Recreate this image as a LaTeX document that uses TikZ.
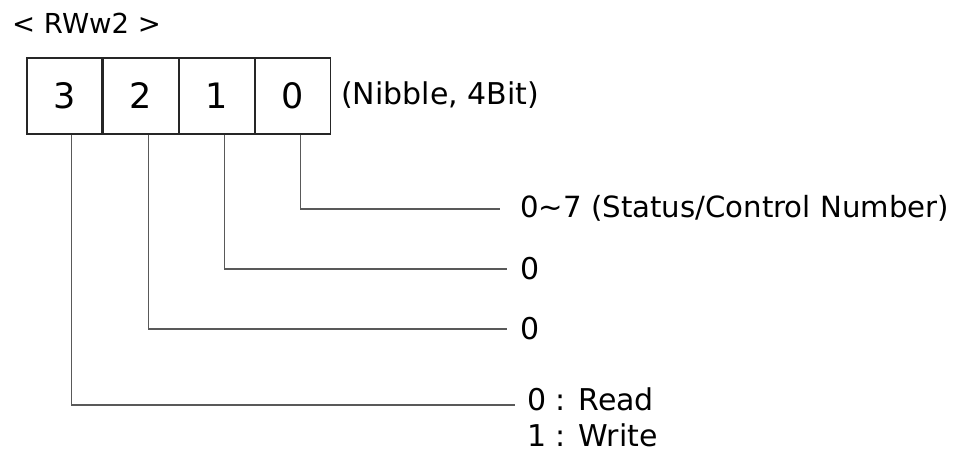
\documentclass[tikz,border=0pt]{standalone}
\usepackage{fontspec}
\setmainfont{DejaVu Sans}
\begin{document}
\begin{tikzpicture}[x=1pt,y=-1pt,
  cell/.style={draw=black!85,line width=1.1pt,minimum width=75pt,minimum height=76pt,inner sep=0pt,font=\fontsize{35}{40}\selectfont},
  lbl/.style={anchor=west,inner sep=0pt,font=\fontsize{30}{36}\selectfont},
  conn/.style={draw=black!65,line width=1.3pt}]
\useasboundingbox (0,0) rectangle (958,452);
\node[anchor=west,inner sep=0pt,font=\fontsize{27.5}{33}\selectfont] (title) at (12,23) {< RWw2 >};
\node[cell] (c3) at (64.5,96) {3};
\node[cell,anchor=west] (c2) at (c3.east) {2};
\node[cell,anchor=west] (c1) at (c2.east) {1};
\node[cell,anchor=west] (c0) at (c1.east) {0};
\node[lbl] (nib) at (341,95) {(Nibble, 4Bit)};
\node[lbl,font=\fontsize{29.2}{35}\selectfont] (t0) at (520,208) {0∼7 (Status/Control Number)};
\node[lbl] (t1) at (520,269) {0};
\node[lbl] (t2) at (520,329) {0};
\node[lbl] (t3a) at (527,399) {0 : Read};
\node[lbl] (t3b) at (527,435) {1 : Write};
\coordinate (e0) at (500,209);
\coordinate (e1) at (507,269);
\coordinate (e2) at (507,329);
\coordinate (e3) at (515,405);
\draw[conn] ([xshift=8pt]c0.south) |- (e0);
\draw[conn] ([xshift=8pt]c1.south) |- (e1);
\draw[conn] ([xshift=8pt]c2.south) |- (e2);
\draw[conn] ([xshift=7pt]c3.south) |- (e3);
\end{tikzpicture}
\end{document}
